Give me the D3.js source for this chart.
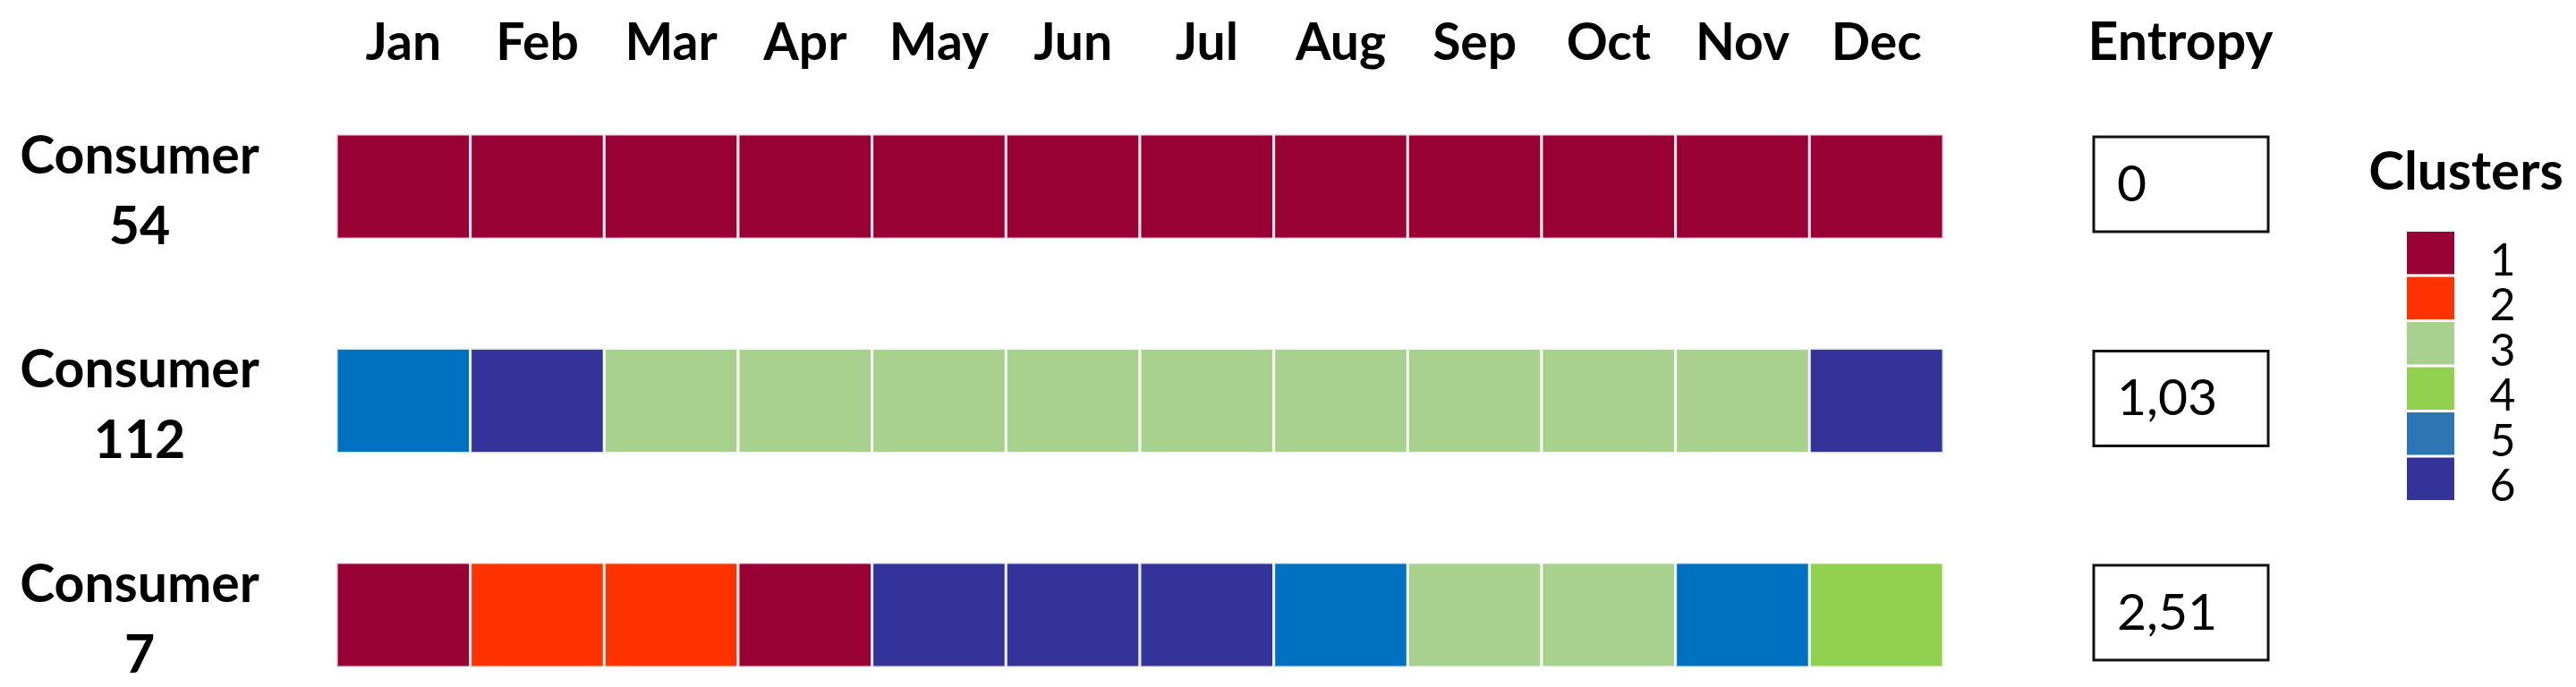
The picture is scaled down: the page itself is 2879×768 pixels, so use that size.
<!DOCTYPE html>
<html>
<head>
<meta charset="utf-8">
<script src="https://cdn.jsdelivr.net/npm/d3@7"></script>
<style>
body { margin: 0; background: #fff; }
text { font-family: Lato, "Open Sans", sans-serif; fill: #000; }
.bold { font-weight: bold; }
</style>
</head>
<body>
<div id="chart"></div>
<script>
var width = 2879, height = 768;

// data
var months = ["Jan","Feb","Mar","Apr","May","Jun","Jul","Aug","Sep","Oct","Nov","Dec"];
var consumers = ["54", "112", "7"];
var clusters54  = [1,1,1,1,1,1,1,1,1,1,1,1];
var clusters112 = [5,6,3,3,3,3,3,3,3,3,3,6];
var clusters7   = [1,2,2,1,6,6,6,5,3,3,5,4];
var entropy = ["0", "1,03", "2,51"];
var clusterIds = [1,2,3,4,5,6];
var cellColors   = ["#990033","#FF3300","#A9D18E","#92D050","#0070C0","#333399"];
var legendColors = ["#990033","#FF3300","#A9D18E","#92D050","#2E75B6","#333399"];

var rows = [clusters54, clusters112, clusters7];

var svg = d3.select("#chart").append("svg")
  .attr("width", width)
  .attr("height", height);

var x = d3.scaleBand()
  .domain(months)
  .range([376, 2172]);

var y = d3.scaleBand()
  .domain(consumers)
  .range([150, 746])
  .paddingInner(0.511);

var color = d3.scaleOrdinal().domain(clusterIds).range(cellColors);
var legendColor = d3.scaleOrdinal().domain(clusterIds).range(legendColors);

// month labels
svg.append("g")
  .selectAll("text")
  .data(months)
  .enter()
  .append("text")
  .attr("class", "bold")
  .attr("x", function(d){ return x(d) + x.bandwidth()/2; })
  .attr("y", 67)
  .attr("text-anchor", "middle")
  .style("font-size", "57px")
  .text(function(d){ return d; });

// cells
var cells = [];
rows.forEach(function(r, i){
  r.forEach(function(c, j){
    cells.push({consumer: consumers[i], month: months[j], cluster: c});
  });
});

svg.append("g")
  .selectAll("rect")
  .data(cells)
  .enter()
  .append("rect")
  .attr("x", function(d){ return x(d.month); })
  .attr("y", function(d){ return y(d.consumer); })
  .attr("width", x.bandwidth())
  .attr("height", y.bandwidth())
  .attr("fill", function(d){ return color(d.cluster); })
  .attr("stroke", "#fff")
  .attr("stroke-opacity", 0.85)
  .attr("stroke-width", 3);

// consumer labels
var lab = svg.append("g")
  .selectAll("g")
  .data(consumers)
  .enter()
  .append("g")
  .attr("transform", function(d){ return "translate(156," + y(d) + ")"; });

lab.append("text")
  .attr("class", "bold")
  .attr("y", 44)
  .attr("text-anchor", "middle")
  .style("font-size", "59px")
  .text("Consumer");

lab.append("text")
  .attr("class", "bold")
  .attr("y", 123)
  .attr("text-anchor", "middle")
  .style("font-size", "59px")
  .text(function(d){ return d; });

// entropy column
svg.append("text")
  .attr("class", "bold")
  .attr("x", 2437)
  .attr("y", 67)
  .attr("text-anchor", "middle")
  .style("font-size", "59px")
  .text("Entropy");

var ent = svg.append("g")
  .selectAll("g")
  .data(entropy)
  .enter()
  .append("g")
  .attr("transform", function(d, i){ return "translate(2340," + (y(consumers[i]) + 3) + ")"; });

ent.append("rect")
  .attr("width", 195)
  .attr("height", 106)
  .attr("fill", "#fff")
  .attr("stroke", "#111")
  .attr("stroke-width", 3);

ent.append("text")
  .attr("x", 26)
  .attr("y", 72)
  .style("font-size", "57px")
  .text(function(d){ return d; });

// legend
var legY = d3.scaleBand()
  .domain(clusterIds)
  .range([259, 559])
  .paddingInner(0.06);

svg.append("text")
  .attr("class", "bold")
  .attr("x", 2756)
  .attr("y", 212)
  .attr("text-anchor", "middle")
  .style("font-size", "60px")
  .text("Clusters");

var leg = svg.append("g");
leg.selectAll("rect")
  .data(clusterIds)
  .enter()
  .append("rect")
  .attr("x", 2690)
  .attr("y", function(d){ return legY(d); })
  .attr("width", 53)
  .attr("height", legY.bandwidth())
  .attr("fill", function(d){ return legendColor(d); });

leg.selectAll("text")
  .data(clusterIds)
  .enter()
  .append("text")
  .attr("x", 2797)
  .attr("y", function(d){ return legY(d) + legY.bandwidth()/2 + 25; })
  .attr("text-anchor", "middle")
  .style("font-size", "50px")
  .text(function(d){ return d; });
</script>
</body>
</html>
